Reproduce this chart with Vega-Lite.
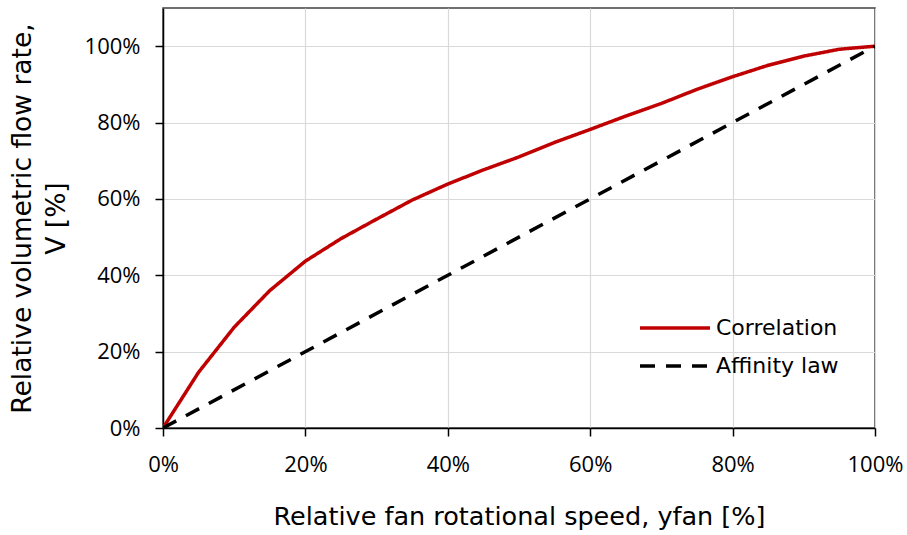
{
  "$schema": "https://vega.github.io/schema/vega-lite/v6.json",
  "autosize": {"type": "none"},
  "padding": {"left": 163, "top": 8, "right": 32, "bottom": 107},
  "width": 712,
  "height": 420,
  "background": "white",
  "config": {
    "view": {"stroke": "#404040", "strokeWidth": 1.5},
    "axis": {
      "gridColor": "#d9d9d9",
      "gridWidth": 1.2,
      "domainColor": "#000000",
      "domainWidth": 1.5,
      "tickColor": "#000000",
      "tickSize": 8,
      "tickWidth": 1.5,
      "labelFont": "Open Sans",
      "labelFontSize": 22,
      "labelColor": "#000000",
      "titleFont": "DejaVu Sans",
      "titleFontWeight": "normal",
      "titleColor": "#000000"
    },
    "legend": {
      "labelFont": "DejaVu Sans",
      "labelFontSize": 22,
      "labelColor": "#000000"
    }
  },
  "data": {
    "values": [
      {"x": 0, "y": 0, "s": "Correlation"},
      {"x": 0.05, "y": 0.146, "s": "Correlation"},
      {"x": 0.10, "y": 0.264, "s": "Correlation"},
      {"x": 0.15, "y": 0.36, "s": "Correlation"},
      {"x": 0.20, "y": 0.437, "s": "Correlation"},
      {"x": 0.25, "y": 0.496, "s": "Correlation"},
      {"x": 0.30, "y": 0.547, "s": "Correlation"},
      {"x": 0.35, "y": 0.597, "s": "Correlation"},
      {"x": 0.40, "y": 0.639, "s": "Correlation"},
      {"x": 0.45, "y": 0.676, "s": "Correlation"},
      {"x": 0.50, "y": 0.71, "s": "Correlation"},
      {"x": 0.55, "y": 0.748, "s": "Correlation"},
      {"x": 0.60, "y": 0.782, "s": "Correlation"},
      {"x": 0.65, "y": 0.817, "s": "Correlation"},
      {"x": 0.70, "y": 0.85, "s": "Correlation"},
      {"x": 0.75, "y": 0.887, "s": "Correlation"},
      {"x": 0.80, "y": 0.92, "s": "Correlation"},
      {"x": 0.85, "y": 0.95, "s": "Correlation"},
      {"x": 0.90, "y": 0.974, "s": "Correlation"},
      {"x": 0.95, "y": 0.992, "s": "Correlation"},
      {"x": 1.0, "y": 1.0, "s": "Correlation"},
      {"x": 0, "y": 0, "s": "Affinity law"},
      {"x": 1.0, "y": 1.0, "s": "Affinity law"}
    ]
  },
  "mark": {"type": "line", "strokeWidth": 3.5, "clip": true},
  "encoding": {
    "x": {
      "field": "x", "type": "quantitative",
      "scale": {"domain": [0, 1], "nice": false},
      "axis": {"format": ".0%", "values": [0, 0.2, 0.4, 0.6, 0.8, 1.0], "labelPadding": 18, "labelFlush": false, "titlePadding": 29, "titleFontSize": 25.5,
               "title": "Relative fan rotational speed, yfan [%]"}
    },
    "y": {
      "field": "y", "type": "quantitative",
      "scale": {"domain": [0, 1.1], "nice": false},
      "axis": {"format": ".0%", "values": [0, 0.2, 0.4, 0.6, 0.8, 1.0], "labelPadding": 15, "labelFlush": false, "titlePadding": 14, "titleFontSize": 26.5, "titleLineHeight": 34,
               "title": ["Relative volumetric flow rate,", "V  [%]"]}
    },
    "color": {
      "field": "s", "type": "nominal",
      "scale": {"domain": ["Correlation", "Affinity law"], "range": ["#c00000", "#000000"]},
      "legend": {"title": null, "orient": "none", "legendX": 475, "legendY": 301, "symbolType": "stroke", "symbolSize": 4900, "symbolStrokeWidth": 3.5, "symbolDash": [16, 10], "clipHeight": 38, "rowPadding": 0, "labelOffset": 4}
    },
    "strokeDash": {
      "field": "s", "type": "nominal",
      "scale": {"domain": ["Correlation", "Affinity law"], "range": [[1, 0], [15, 11]]},
      "legend": null
    }
  }
}
